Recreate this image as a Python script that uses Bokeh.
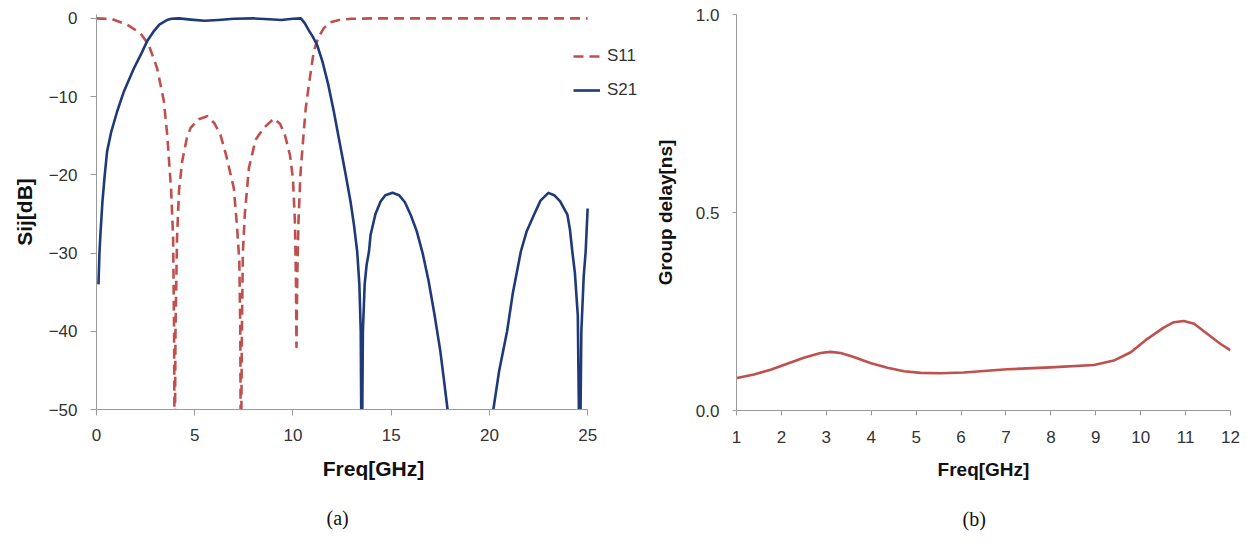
from bokeh.plotting import figure
from bokeh.layouts import row
from bokeh.models import Range1d, FixedTicker, Legend, LegendItem, Title, NumeralTickFormatter
from bokeh.embed import file_html
from bokeh.resources import INLINE

# ---- (a) S-parameters ----
s11_freq = [0.0, 0.8, 1.56, 2.24, 2.66, 3.09, 3.43, 3.6, 3.8, 3.9, 3.95, 3.98, 4.02, 4.1, 4.2,
            4.36, 4.6, 4.79, 5.2, 5.64, 6.0, 6.31, 6.6, 6.99, 7.15, 7.27, 7.32, 7.35, 7.4, 7.45,
            7.55, 7.76, 8.1, 8.52, 9.03, 9.35, 9.6, 9.85, 10.0, 10.1, 10.15, 10.18, 10.22, 10.28,
            10.38, 10.47, 10.65, 10.81, 11.06, 11.3, 11.57, 11.9, 12.42, 13.0, 14.0, 25.0]
s11_db = [0.0, -0.1, -0.8, -1.9, -3.4, -6.4, -10.6, -14.9, -22.0, -28.0, -40.0, -60.0, -40.0, -28.0,
          -22.0, -18.3, -15.3, -14.0, -12.9, -12.5, -13.4, -14.9, -17.5, -21.7, -26.5, -31.0, -40.0,
          -60.0, -40.0, -30.0, -25.0, -19.1, -15.5, -14.0, -12.8, -13.5, -15.0, -17.5, -20.5, -26.0,
          -33.0, -42.0, -33.0, -26.0, -20.0, -17.0, -11.5, -8.5, -4.2, -2.4, -1.24, -0.5, -0.17,
          -0.05, 0.0, 0.0]

s21_freq = [0.1, 0.15, 0.2, 0.3, 0.42, 0.54, 0.75, 1.05, 1.4, 1.9, 2.3, 2.58, 2.9, 3.2, 3.6, 3.8,
            4.2, 4.8, 5.5, 6.2, 7.0, 8.0, 8.8, 9.4, 10.0, 10.4, 10.6, 10.8, 11.0, 11.23, 11.5, 11.8,
            12.08, 12.35, 12.65, 12.93, 13.1, 13.27, 13.38, 13.45, 13.5, 13.56, 13.65, 13.75, 13.87,
            13.95, 14.2, 14.46, 14.7, 15.07, 15.4, 15.7, 15.99, 16.3, 16.6, 16.9, 17.2, 17.5, 17.7,
            17.87, 18.1, 19.0, 20.0, 20.2, 20.5, 20.9, 21.2, 21.6, 21.9, 22.27, 22.6, 23.0, 23.3,
            23.6, 23.97, 24.1, 24.22, 24.35, 24.5, 24.6, 24.68, 24.8, 24.9, 25.0]
s21_db = [-34.0, -30.0, -27.6, -23.5, -20.0, -17.0, -14.5, -11.9, -9.3, -6.4, -4.4, -2.9, -1.7, -0.8,
          -0.2, -0.05, 0.0, -0.15, -0.3, -0.2, -0.05, 0.0, -0.1, -0.2, -0.05, 0.0, -0.6, -1.5, -2.3,
          -3.4, -5.5, -8.5, -11.9, -15.5, -19.5, -23.4, -26.3, -29.8, -34.0, -40.0, -60.0, -40.0,
          -34.0, -31.5, -29.8, -27.7, -25.0, -23.4, -22.6, -22.3, -22.6, -23.5, -25.1, -27.2, -30.0,
          -33.5, -37.8, -42.5, -46.5, -50.0, -54.0, -70.0, -55.0, -50.0, -45.0, -40.0, -35.0, -29.8,
          -27.2, -25.1, -23.3, -22.3, -22.6, -23.4, -25.1, -27.0, -29.8, -32.5, -38.0, -60.0, -40.0,
          -33.0, -29.8, -24.3]

a_xticks = [0, 5, 10, 15, 20, 25]
a_yticks = [-50, -40, -30, -20, -10, 0]

# ---- (b) group delay ----
gd_freq = [1.01, 1.39, 1.76, 2.13, 2.5, 2.87, 3.09, 3.32, 3.61, 3.98, 4.36, 4.73, 5.1, 5.54, 6.06,
           7.03, 7.99, 8.96, 9.4, 9.78, 10.15, 10.52, 10.74, 10.96, 11.19, 11.48, 11.78, 12.0]
gd_ns = [0.082, 0.091, 0.103, 0.118, 0.133, 0.145, 0.148, 0.145, 0.135, 0.120, 0.108, 0.099, 0.095,
         0.094, 0.096, 0.104, 0.109, 0.115, 0.126, 0.147, 0.181, 0.210, 0.223, 0.226, 0.219, 0.194,
         0.168, 0.152]
b_xticks = list(range(1, 13))
b_yticks = [0.0, 0.5, 1.0]

RED = "#C0504D"
NAVY = "#1F3A78"
AXIS = "#9a9a9a"
FONT = "Liberation Sans"


def style(p, tick_size, label_size):
    p.xgrid.visible = False
    p.ygrid.visible = False
    p.outline_line_color = None
    p.background_fill_color = "white"
    p.border_fill_color = "white"
    for ax in p.axis:
        ax.axis_line_color = AXIS
        ax.major_tick_line_color = AXIS
        ax.minor_tick_line_color = None
        ax.major_tick_in = 0
        ax.major_tick_out = 6
        ax.major_label_text_font = FONT
        ax.major_label_text_font_size = tick_size
        ax.major_label_text_color = "#333333"
        ax.axis_label_text_font = FONT
        ax.axis_label_text_font_style = "bold"
        ax.axis_label_text_font_size = label_size
        ax.axis_label_text_color = "#111111"


# Left figure (frame extends past 25 to hold the legend; axis line bounded to 0..25)
p1 = figure(frame_width=554, frame_height=395, min_border_left=96, min_border_right=0,
            min_border_top=13, min_border_bottom=128,
            x_range=Range1d(0, 28.2), y_range=Range1d(-50, 0.5),
            output_backend="svg", toolbar_location=None)
style(p1, "17px", "21px")
p1.xaxis.ticker = FixedTicker(ticks=a_xticks)
p1.yaxis.ticker = FixedTicker(ticks=a_yticks)
p1.xaxis.bounds = (0, 25)
p1.xaxis.axis_label = "Freq[GHz]"
p1.yaxis.axis_label = "Sij[dB]"
p1.xaxis.major_label_standoff = 13
p1.yaxis.major_label_standoff = 13
p1.xaxis.axis_label_standoff = 13
p1.yaxis.axis_label_standoff = 10

r11 = p1.line(s11_freq, s11_db, line_color=RED, line_width=2.6, line_dash="10 6", line_join="round")
r21 = p1.line(s21_freq, s21_db, line_color=NAVY, line_width=2.6, line_join="round")

leg = Legend(items=[LegendItem(label="S11", renderers=[r11]), LegendItem(label="S21", renderers=[r21])],
             location=(477, 309), orientation="vertical",
             border_line_color=None, background_fill_alpha=0, padding=0, margin=0,
             spacing=14, glyph_width=27, glyph_height=20, label_height=20, label_standoff=7,
             label_text_font=FONT, label_text_font_size="17px", label_text_color="#333333")
p1.add_layout(leg)
p1.add_layout(Title(text="(a)", align="left", text_font="Liberation Serif", text_font_size="20px",
                    text_font_style="normal", text_color="#111111", standoff=45, offset=230), "below")

# Right figure
p2 = figure(frame_width=494, frame_height=396, min_border_left=86, min_border_right=12,
            min_border_top=14, min_border_bottom=126,
            x_range=Range1d(1, 12), y_range=Range1d(0, 1),
            output_backend="svg", toolbar_location=None)
style(p2, "17px", "19px")
p2.xaxis.ticker = FixedTicker(ticks=b_xticks)
p2.yaxis.ticker = FixedTicker(ticks=b_yticks)
p2.yaxis.formatter = NumeralTickFormatter(format="0.0")
p2.xaxis.axis_label = "Freq[GHz]"
p2.yaxis.axis_label = "Group delay[ns]"
p2.xaxis.major_tick_out = 5
p2.yaxis.major_tick_out = 4
p2.xaxis.major_label_standoff = 15
p2.yaxis.major_label_standoff = 13
p2.xaxis.axis_label_standoff = 13
p2.yaxis.axis_label_standoff = 17
p2.line(gd_freq, gd_ns, line_color=RED, line_width=2.6, line_join="round")
p2.add_layout(Title(text="(b)", align="left", text_font="Liberation Serif", text_font_size="20px",
                    text_font_style="normal", text_color="#111111", standoff=46, offset=226), "below")

layout = row(p1, p2)
open("out.html", "w").write(file_html(layout, INLINE))
